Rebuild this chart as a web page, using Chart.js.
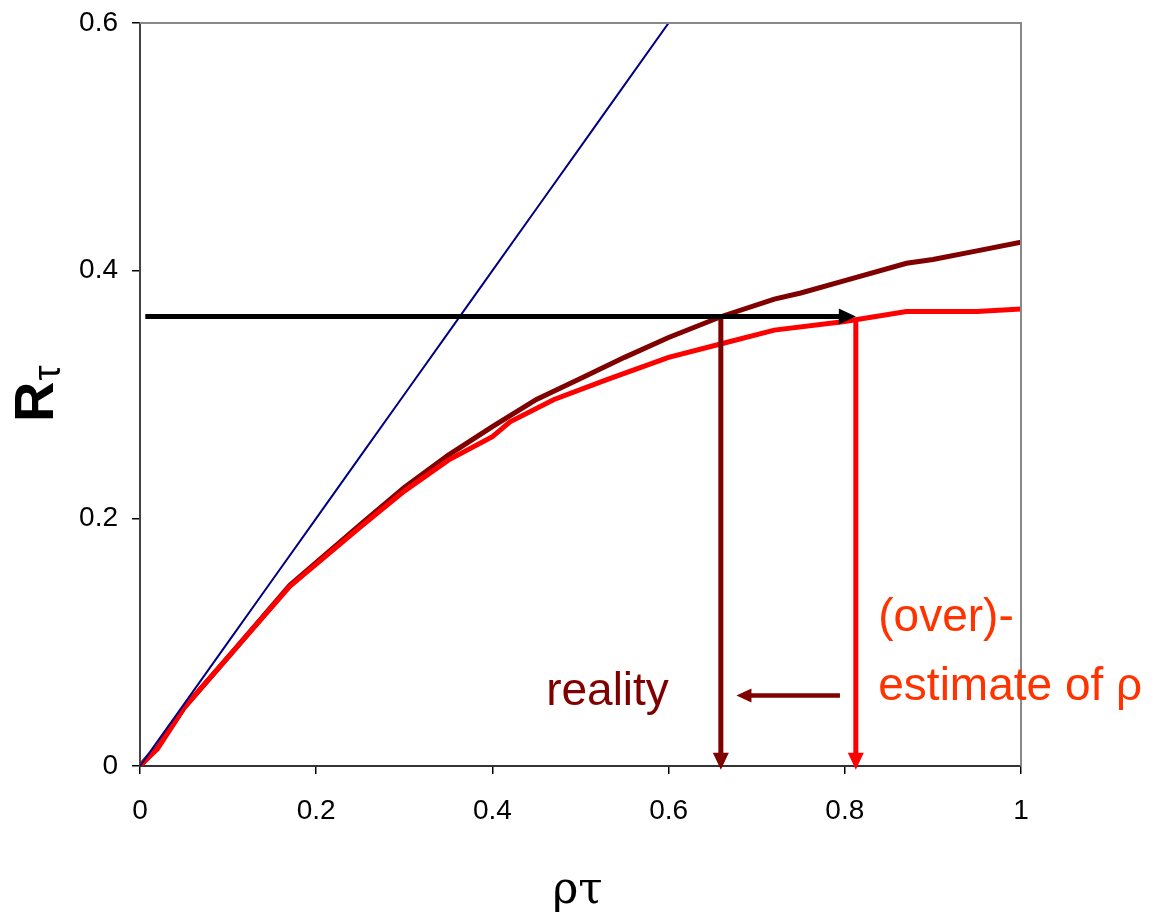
<!DOCTYPE html>
<html>
<head>
<meta charset="utf-8">
<script src="https://cdn.jsdelivr.net/npm/chart.js@4"></script>
<style>
  html, body { margin: 0; padding: 0; background: #fff; }
  #wrap { width: 1152px; height: 918px; }
</style>
</head>
<body>
<div id="wrap"><canvas id="chart" width="1152" height="918"></canvas></div>
<script>
// rho*tau on x, R_tau on y
const xTicks = [0, 0.2, 0.4, 0.6, 0.8, 1];
const yTicks = [0, 0.2, 0.4, 0.6];

// identity line R = rho*tau
const linearX = [0, 0.05, 0.1, 0.15, 0.2, 0.25, 0.3, 0.35, 0.4, 0.45, 0.5, 0.55, 0.6];
const linearY = [0, 0.05, 0.1, 0.15, 0.2, 0.25, 0.3, 0.35, 0.4, 0.45, 0.5, 0.55, 0.6];

// true curve (dark red)
const realX = [0, 0.01, 0.02, 0.05, 0.1, 0.17, 0.25, 0.3, 0.35, 0.4, 0.45, 0.5, 0.55, 0.6, 0.66, 0.72, 0.75, 0.8, 0.87, 0.9, 0.95, 1];
const realY = [0, 0.008, 0.015, 0.047, 0.088, 0.146, 0.195, 0.225, 0.251, 0.274, 0.296, 0.313, 0.330, 0.346, 0.363, 0.377, 0.382, 0.392, 0.406, 0.409, 0.416, 0.423];

// estimated curve (red)
const estX = [0, 0.01, 0.02, 0.05, 0.1, 0.17, 0.25, 0.3, 0.35, 0.4, 0.42, 0.47, 0.53, 0.6, 0.66, 0.72, 0.8, 0.87, 0.95, 1];
const estY = [0, 0.007, 0.014, 0.047, 0.088, 0.145, 0.193, 0.222, 0.247, 0.266, 0.278, 0.296, 0.312, 0.330, 0.341, 0.352, 0.359, 0.367, 0.367, 0.369];

// arrows: [x0, y0, x1, y1] in data units, head at (x1, y1)
const readLevel = [0.006, 0.363, 0.8125, 0.363];
const realDrop = [0.6593, 0.363, 0.6593, -0.003];
const estDrop = [0.8125, 0.362, 0.8125, -0.003];
const shiftArrow = [0.7945, 0.057, 0.677, 0.057];

const toPoints = (xs, ys) => xs.map((x, i) => ({x, y: ys[i]}));

const SANS = "'Liberation Sans', Arial, Helvetica, sans-serif";
const SERIF = "'DejaVu Serif', 'Liberation Serif', serif";
const MAROON = '#800000';
const RED = '#ff0000';
const ORANGE = '#ff3300';

function arrow(ctx, sx, sy, a, color, width, headLen, headHalf) {
  const x0 = sx.getPixelForValue(a[0]), y0 = sy.getPixelForValue(a[1]);
  const x1 = sx.getPixelForValue(a[2]), y1 = sy.getPixelForValue(a[3]);
  const len = Math.hypot(x1 - x0, y1 - y0);
  const ux = (x1 - x0) / len, uy = (y1 - y0) / len;
  const bx = x1 - ux * headLen, by = y1 - uy * headLen;
  ctx.save();
  ctx.strokeStyle = color;
  ctx.fillStyle = color;
  ctx.lineWidth = width;
  ctx.lineCap = 'butt';
  ctx.beginPath();
  ctx.moveTo(x0, y0);
  ctx.lineTo(bx + ux, by + uy);
  ctx.stroke();
  ctx.beginPath();
  ctx.moveTo(x1, y1);
  ctx.lineTo(bx - uy * headHalf, by + ux * headHalf);
  ctx.lineTo(bx + uy * headHalf, by - ux * headHalf);
  ctx.closePath();
  ctx.fill();
  ctx.restore();
}

const overlay = {
  id: 'overlay',
  afterDatasetsDraw(chart) {
    const {ctx, chartArea: ca, scales: {x: sx, y: sy}} = chart;

    // top and right frame
    ctx.save();
    ctx.strokeStyle = '#888888';
    ctx.lineWidth = 2;
    ctx.beginPath();
    ctx.moveTo(ca.left, ca.top);
    ctx.lineTo(ca.right, ca.top);
    ctx.lineTo(ca.right, ca.bottom);
    ctx.stroke();
    ctx.restore();

    arrow(ctx, sx, sy, realDrop, MAROON, 5, 17, 8);
    arrow(ctx, sx, sy, estDrop, RED, 5, 17, 8);
    arrow(ctx, sx, sy, readLevel, '#000000', 5, 17, 8);
    arrow(ctx, sx, sy, shiftArrow, MAROON, 4.5, 15, 7);

    ctx.save();
    ctx.textBaseline = 'alphabetic';
    ctx.textAlign = 'left';
    ctx.font = '46px ' + SANS;
    ctx.fillStyle = MAROON;
    ctx.fillText('reality', sx.getPixelForValue(0.461), sy.getPixelForValue(0.049));
    ctx.fillStyle = ORANGE;
    ctx.fillText('(over)-', sx.getPixelForValue(0.838), sy.getPixelForValue(0.109));
    ctx.fillText('estimate of ρ', sx.getPixelForValue(0.838), sy.getPixelForValue(0.053));

    // x axis title
    ctx.fillStyle = '#000';
    ctx.textAlign = 'center';
    ctx.font = '44px ' + SERIF;
    ctx.fillText('ρτ', (ca.left + ca.right) / 2 - 3, 903);

    // y axis title, rotated, tau sits low
    ctx.translate(53, 422);
    ctx.rotate(-Math.PI / 2);
    ctx.textAlign = 'left';
    ctx.font = 'bold 56px ' + SANS;
    ctx.fillText('R', 0, 0);
    const w = ctx.measureText('R').width;
    ctx.font = '38px ' + SANS;
    ctx.fillText('τ', w + 1, 7);
    ctx.restore();
  }
};

new Chart(document.getElementById('chart'), {
  type: 'scatter',
  data: {
    datasets: [
      {data: toPoints(linearX, linearY), borderColor: '#000080', borderWidth: 2, showLine: true, pointRadius: 0, tension: 0},
      {data: toPoints(estX, estY), borderColor: RED, borderWidth: 5, showLine: true, pointRadius: 0, tension: 0},
      {data: toPoints(realX, realY), borderColor: MAROON, borderWidth: 5, showLine: true, pointRadius: 0, tension: 0}
    ]
  },
  options: {
    responsive: false,
    animation: false,
    devicePixelRatio: 1,
    layout: {padding: {left: 0, right: 131, top: 23, bottom: 0}},
    plugins: {legend: {display: false}, tooltip: {enabled: false}},
    scales: {
      x: {
        type: 'linear', min: 0, max: 1,
        afterBuildTicks: s => { s.ticks = xTicks.map(v => ({value: v})); },
        afterFit: s => { s.height = 152; s.paddingLeft = 0; s.paddingRight = 0; },
        grid: {drawOnChartArea: false, drawTicks: true, tickLength: 8, color: '#000', lineWidth: 1.5},
        border: {color: '#333', width: 2},
        ticks: {color: '#000', padding: 20, font: {family: SANS, size: 28}, callback: v => String(v)}
      },
      y: {
        type: 'linear', min: 0, max: 0.6,
        afterBuildTicks: s => { s.ticks = yTicks.map(v => ({value: v})); },
        afterFit: s => { s.width = 140; s.paddingTop = 0; s.paddingBottom = 0; },
        grid: {drawOnChartArea: false, drawTicks: true, tickLength: 8, color: '#000', lineWidth: 1.5},
        border: {color: '#444', width: 2},
        ticks: {color: '#000', padding: 14, font: {family: SANS, size: 28}, callback: v => String(v)}
      }
    }
  },
  plugins: [overlay]
});
</script>
</body>
</html>
